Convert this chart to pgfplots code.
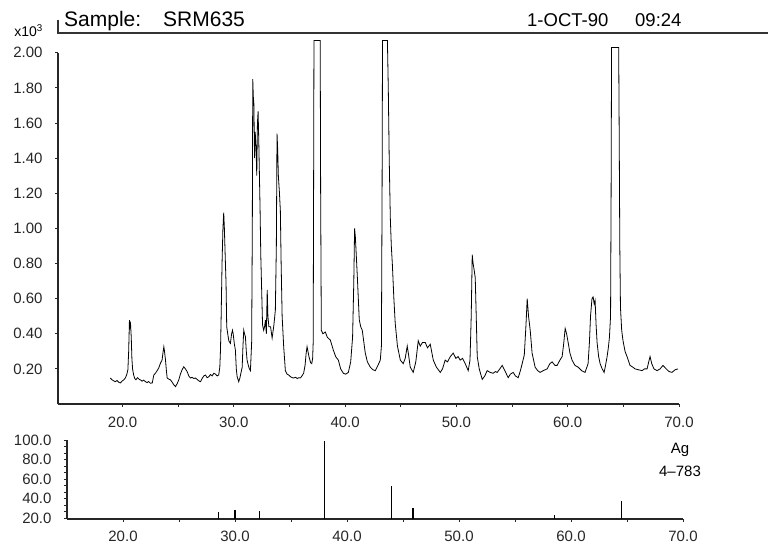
\documentclass[border=0pt]{standalone}
\usepackage{fontspec}
\setmainfont{Liberation Sans}
\usepackage{pgfplots}
\pgfplotsset{compat=1.18}
\begin{document}
\begin{tikzpicture}[x=1pt,y=1pt]
\path[use as bounding box] (0,0) rectangle (768,-548);
\pgfplotsset{
  xrdaxis/.style={
    scale only axis,
    axis x line*=bottom, axis y line*=left,
    axis line style={-, line width=1.3pt, black!85},
    tick align=outside,
    major tick length=3pt, minor tick length=3pt,
    every tick/.style={black!85, line width=0.9pt},
    tick label style={font=\fontsize{15}{17}\selectfont, black!85},
    /pgf/number format/assume math mode=true,
    /pgf/number format/fixed, /pgf/number format/fixed zerofill,
  }
}
% header
\draw[line width=1.6pt, black!80] (58,-20) -- (58,-33) -- (768,-33);
\node[anchor=base west, inner sep=0pt, font=\fontsize{21}{23}\selectfont] at (64,-27) {Sample:};
\node[anchor=base west, inner sep=0pt, font=\fontsize{21}{23}\selectfont] at (163,-27) {SRM635};
\node[anchor=base west, inner sep=0pt, font=\fontsize{18.5}{20}\selectfont] at (527,-27) {1-OCT-90};
\node[anchor=base west, inner sep=0pt, font=\fontsize{18.5}{20}\selectfont] at (635,-27) {09:24};
\node[anchor=base east, inner sep=0pt, font=\fontsize{14}{16}\selectfont] at (43,-37) {x10\textsuperscript{3}};

\begin{axis}[xrdaxis,
  at={(58pt,-404pt)}, anchor=south west,
  width=621pt, height=351.2pt,
  xmin=14.2, xmax=70, ymin=0, ymax=2.0,
  clip=false,
  xtick={20,30,40,50,60,70}, minor xtick={25,35,45,55,65},
  ytick={0.2,0.4,0.6,0.8,1.0,1.2,1.4,1.6,1.8,2.0},
  xticklabel style={/pgf/number format/precision=1, yshift=-6pt},
  yticklabel style={/pgf/number format/precision=2, xshift=-9pt},
]
\addplot[black, line width=0.8pt] table {
18.90 0.148
19.05 0.138
19.20 0.132
19.35 0.127
19.50 0.134
19.65 0.124
19.80 0.120
19.95 0.130
20.10 0.137
20.25 0.148
20.38 0.168
20.48 0.195
20.55 0.300
20.62 0.478
20.67 0.440
20.72 0.455
20.78 0.383
20.84 0.260
20.90 0.200
21.00 0.165
21.10 0.145
21.20 0.138
21.35 0.150
21.50 0.140
21.62 0.137
21.75 0.130
21.90 0.136
22.06 0.127
22.20 0.122
22.35 0.128
22.50 0.118
22.67 0.120
22.81 0.165
22.95 0.175
23.11 0.190
23.25 0.205
23.41 0.233
23.55 0.250
23.65 0.300
23.71 0.326
23.77 0.300
23.86 0.250
23.94 0.190
24.01 0.148
24.15 0.142
24.31 0.137
24.45 0.125
24.60 0.110
24.76 0.099
24.90 0.115
25.05 0.137
25.20 0.170
25.35 0.195
25.50 0.212
25.65 0.200
25.81 0.184
25.95 0.160
26.10 0.148
26.25 0.152
26.40 0.145
26.55 0.148
26.70 0.140
26.85 0.132
27.00 0.127
27.15 0.145
27.30 0.160
27.45 0.165
27.60 0.150
27.75 0.155
27.90 0.168
28.05 0.160
28.20 0.175
28.35 0.170
28.50 0.160
28.64 0.165
28.74 0.210
28.80 0.307
28.86 0.497
28.94 0.800
29.02 1.000
29.09 1.090
29.15 1.000
29.22 0.850
29.30 0.687
29.36 0.440
29.45 0.400
29.55 0.360
29.69 0.345
29.80 0.400
29.88 0.420
29.94 0.400
30.05 0.340
30.14 0.307
30.22 0.200
30.30 0.155
30.44 0.127
30.55 0.150
30.65 0.180
30.75 0.210
30.82 0.330
30.89 0.420
30.96 0.400
31.04 0.383
31.12 0.300
31.19 0.250
31.30 0.220
31.40 0.200
31.49 0.190
31.60 0.350
31.66 1.000
31.70 1.850
31.75 1.750
31.80 1.710
31.86 1.400
31.92 1.550
32.00 1.450
32.06 1.300
32.12 1.600
32.18 1.666
32.24 1.500
32.30 1.300
32.36 1.100
32.42 0.850
32.50 0.650
32.58 0.450
32.68 0.420
32.76 0.440
32.84 0.478
32.92 0.400
33.00 0.650
33.06 0.500
33.15 0.440
33.30 0.440
33.44 0.376
33.60 0.450
33.73 0.535
33.82 0.900
33.88 1.540
33.94 1.450
34.00 1.300
34.10 1.200
34.18 1.100
34.25 0.800
34.34 0.500
34.48 0.326
34.63 0.190
34.78 0.170
34.93 0.165
35.10 0.155
35.25 0.150
35.38 0.148
35.55 0.152
35.70 0.145
35.85 0.150
35.98 0.148
36.12 0.160
36.27 0.175
36.40 0.220
36.50 0.290
36.58 0.326
36.66 0.300
36.75 0.270
36.90 0.235
37.00 0.230
37.08 0.260
37.13 0.350
37.17 1.300
37.20 2.070
37.76 2.070
37.80 1.200
37.86 0.420
38.00 0.400
38.22 0.410
38.40 0.380
38.67 0.364
38.94 0.307
39.15 0.270
39.39 0.250
39.60 0.200
39.84 0.175
40.05 0.170
40.29 0.180
40.50 0.240
40.67 0.380
40.78 0.700
40.85 1.000
40.92 0.950
41.00 0.850
41.10 0.720
41.27 0.480
41.40 0.440
41.54 0.420
41.81 0.290
42.00 0.240
42.26 0.210
42.50 0.195
42.71 0.190
42.95 0.220
43.16 0.250
43.26 0.330
43.32 1.200
43.36 2.070
43.80 2.070
43.88 1.790
43.96 1.400
44.06 1.060
44.15 0.900
44.24 0.800
44.38 0.600
44.50 0.460
44.70 0.330
44.96 0.250
45.22 0.230
45.40 0.260
45.58 0.330
45.70 0.280
45.85 0.210
46.12 0.180
46.35 0.240
46.57 0.360
46.75 0.330
46.95 0.350
47.20 0.350
47.40 0.320
47.65 0.340
47.92 0.250
48.20 0.210
48.55 0.180
48.75 0.200
48.99 0.250
49.20 0.240
49.45 0.270
49.71 0.290
49.95 0.260
50.15 0.270
50.34 0.250
50.55 0.260
50.79 0.230
51.06 0.190
51.22 0.250
51.33 0.500
51.42 0.850
51.50 0.800
51.60 0.760
51.69 0.720
51.78 0.500
51.87 0.270
52.05 0.200
52.32 0.140
52.55 0.160
52.76 0.190
53.03 0.180
53.30 0.175
53.50 0.185
53.66 0.180
53.90 0.200
54.11 0.220
54.35 0.190
54.65 0.150
54.85 0.170
55.10 0.180
55.30 0.160
55.55 0.150
55.75 0.190
55.91 0.230
56.10 0.280
56.25 0.450
56.36 0.600
56.48 0.500
56.63 0.420
56.80 0.290
57.07 0.210
57.30 0.190
57.52 0.180
57.80 0.190
58.15 0.200
58.40 0.230
58.60 0.240
58.85 0.220
59.05 0.220
59.30 0.250
59.50 0.270
59.65 0.350
59.77 0.430
59.90 0.400
60.04 0.350
60.20 0.290
60.39 0.250
60.65 0.220
60.93 0.210
61.25 0.190
61.56 0.180
61.83 0.230
61.95 0.350
62.05 0.500
62.18 0.600
62.28 0.610
62.38 0.570
62.46 0.590
62.55 0.450
62.64 0.350
62.78 0.270
62.91 0.230
63.10 0.200
63.27 0.180
63.40 0.220
63.54 0.270
63.65 0.320
63.75 0.380
63.85 0.500
63.90 1.200
63.94 2.030
64.58 2.030
64.63 1.500
64.68 0.900
64.74 0.550
64.85 0.420
64.97 0.360
65.15 0.300
65.33 0.270
65.60 0.220
65.85 0.210
66.05 0.200
66.35 0.195
66.68 0.190
66.90 0.200
67.13 0.200
67.28 0.240
67.40 0.270
67.55 0.230
67.75 0.200
68.03 0.190
68.30 0.200
68.56 0.220
68.85 0.200
69.10 0.185
69.37 0.180
69.65 0.195
69.91 0.200
};
\end{axis}

\begin{axis}[xrdaxis,
  at={(67pt,-519pt)}, anchor=south west,
  width=616pt, height=79pt,
  xmin=15, xmax=70, ymin=19, ymax=100,
  xtick={20,30,40,50,60,70}, minor xtick={25,35,45,55,65},
  ytick={20,40,60,80,100}, minor y tick num=2,
  xticklabel style={/pgf/number format/precision=1, yshift=-5pt},
  yticklabel style={/pgf/number format/precision=1, xshift=-9pt},
]
\addplot[ycomb, black, line width=1.2pt] coordinates {
(28.5,26.5) (30.0,28.2) (32.2,27.2) (38.0,99) (44.0,53) (45.9,30.6) (58.5,23) (64.5,37)
};
\end{axis}
\node[font=\fontsize{15}{17}\selectfont] at (680,-450) {Ag};
\node[font=\fontsize{15}{17}\selectfont] at (680,-471) {4--783};
\end{tikzpicture}
\end{document}
